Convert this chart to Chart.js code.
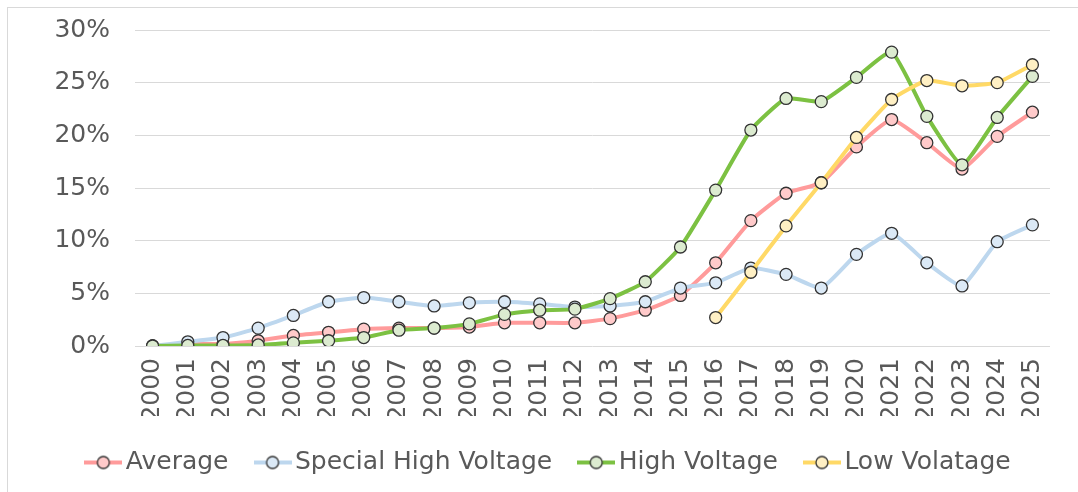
<!DOCTYPE html>
<html>
<head>
<meta charset="utf-8">
<script src="https://cdn.jsdelivr.net/npm/chart.js@4.4.1/dist/chart.umd.min.js"></script>
<style>
  html, body { margin: 0; padding: 0; background: #fff; }
  #wrap { position: relative; width: 1078px; height: 492px; overflow: hidden; }
  #frame { position: absolute; left: 7px; top: 7px; width: 1100px; height: 520px; border: 1px solid #d9d9d9; }
  #chart { position: absolute; left: 0; top: 0; }
</style>
</head>
<body>
<div id="wrap">
  <div id="frame"></div>
  <canvas id="chart" width="1078" height="492"></canvas>
</div>
<script>
// Share of renewables by contract type (%)

const years = ["2000", "2001", "2002", "2003", "2004", "2005", "2006", "2007", "2008", "2009",
  "2010", "2011", "2012", "2013", "2014", "2015", "2016", "2017", "2018", "2019",
  "2020", "2021", "2022", "2023", "2024", "2025"];

const average = [0, 0.2, 0.2, 0.5, 1.0, 1.3, 1.6, 1.7, 1.7, 1.8, 2.2, 2.2, 2.2, 2.6, 3.4, 4.8,
  7.9, 11.9, 14.5, 15.5, 18.9, 21.5, 19.3, 16.8, 19.9, 22.2];

const specialHigh = [0, 0.4, 0.8, 1.7, 2.9, 4.2, 4.6, 4.2, 3.8, 4.1, 4.2, 4.0, 3.7, 3.8, 4.2, 5.5,
  6.0, 7.4, 6.8, 5.5, 8.7, 10.7, 7.9, 5.7, 9.9, 11.5];

const highVoltage = [0, 0.05, 0.05, 0.1, 0.3, 0.5, 0.8, 1.5, 1.7, 2.1, 3.0, 3.4, 3.5, 4.5, 6.1, 9.4,
  14.8, 20.5, 23.5, 23.2, 25.5, 27.9, 21.8, 17.2, 21.7, 25.6];

const lowVoltage = [null, null, null, null, null, null, null, null, null, null, null, null, null, null, null, null,
  2.7, 7.0, 11.4, 15.5, 19.8, 23.4, 25.2, 24.7, 25.0, 26.7];

const seriesNames = ["Average", "Special High Voltage", "High Voltage", "Low Volatage"];
const lineColors = ["#ff9b9b", "#bdd7ee", "#7cc142", "#ffd966"];
const fillColors = ["#ffcaca", "#dbe9f6", "#dcebd0", "#fff0c4"];

const textColor = "#595959";
const fontFamily = "'DejaVu Sans', sans-serif";

// legend marker: short line with the circle on it
function legendMarker(line, fill) {
  const c = document.createElement("canvas");
  c.width = 38;
  c.height = 16;
  const g = c.getContext("2d");
  g.strokeStyle = line;
  g.lineWidth = 4;
  g.beginPath();
  g.moveTo(0, 8);
  g.lineTo(38, 8);
  g.stroke();
  g.beginPath();
  g.arc(19, 8, 6, 0, Math.PI * 2);
  g.fillStyle = fill;
  g.fill();
  g.lineWidth = 1.3;
  g.strokeStyle = "#333";
  g.stroke();
  return c;
}
const markers = lineColors.map((c, i) => legendMarker(c, fillColors[i]));

const allValues = [average, specialHigh, highVoltage, lowVoltage];

const datasets = allValues.map((vals, i) => ({
  label: seriesNames[i],
  data: vals,
  borderColor: lineColors[i],
  backgroundColor: fillColors[i],
  borderWidth: 4,
  pointRadius: 6,
  pointHoverRadius: 6,
  pointBackgroundColor: fillColors[i],
  pointBorderColor: "#333",
  pointBorderWidth: 1.3,
  tension: 0.15,
  // later series sit on top, like the original
  order: allValues.length - i
}));

const ctx = document.getElementById("chart").getContext("2d");

new Chart(ctx, {
  type: "line",
  data: { labels: years, datasets: datasets },
  options: {
    responsive: false,
    animation: false,
    layout: { padding: { left: 54, right: 28, top: 30, bottom: 7 } },
    scales: {
      x: {
        offset: true,
        grid: { display: false, drawTicks: false },
        border: { display: false },
        ticks: {
          color: textColor,
          font: { family: fontFamily, size: 25 },
          minRotation: 90,
          maxRotation: 90,
          autoSkip: false,
          padding: 12
        },
        afterFit: (scale) => { scale.height = 70; }
      },
      y: {
        min: 0,
        max: 30,
        grid: { color: "#d9d9d9", lineWidth: 1, drawTicks: false },
        border: { display: false },
        ticks: {
          stepSize: 5,
          color: textColor,
          font: { family: fontFamily, size: 25 },
          padding: 25,
          callback: (v) => v + "%"
        },
        afterFit: (scale) => {
          scale.width = 81;
          scale.paddingTop = 0;
          scale.paddingBottom = 0;
        }
      }
    },
    plugins: {
      tooltip: { enabled: false },
      legend: {
        position: "bottom",
        labels: {
          color: textColor,
          font: { family: fontFamily, size: 25 },
          usePointStyle: true,
          pointStyleWidth: 20,
          padding: 34,
          generateLabels: (chart) => {
            const items = Chart.defaults.plugins.legend.labels.generateLabels(chart);
            items.sort((a, b) => a.datasetIndex - b.datasetIndex);
            items.forEach((it) => { it.pointStyle = markers[it.datasetIndex]; });
            return items;
          }
        }
      }
    }
  }
});
</script>
</body>
</html>
